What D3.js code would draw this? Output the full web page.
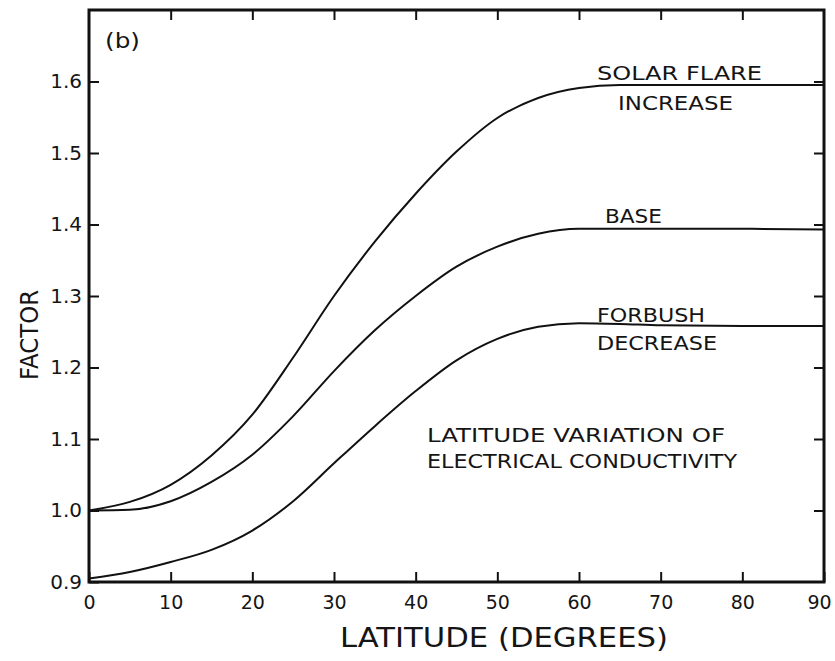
<!DOCTYPE html>
<html>
<head>
<meta charset="utf-8">
<script src="https://cdn.jsdelivr.net/npm/d3@7"></script>
<style>
  body { margin: 0; background: #fff; }
  svg text { font-family: "DejaVu Sans", sans-serif; fill: #151515; }
</style>
</head>
<body>
<div id="graph"></div>
<script>
// latitude (degrees) sampled along the curves
var latitudes = [0, 5, 10, 15, 20, 25, 30, 35, 40, 45, 50, 55, 60, 65, 70, 80, 90];
// factor values
var solarFlare = [1.000, 1.012, 1.036, 1.077, 1.134, 1.214, 1.300, 1.376, 1.443, 1.502, 1.549, 1.577, 1.591, 1.595, 1.595, 1.595, 1.595];
var base       = [1.000, 1.001, 1.013, 1.040, 1.078, 1.132, 1.195, 1.252, 1.300, 1.341, 1.369, 1.387, 1.394, 1.394, 1.394, 1.394, 1.393];
var forbush    = [0.905, 0.914, 0.928, 0.945, 0.972, 1.013, 1.066, 1.118, 1.167, 1.210, 1.240, 1.257, 1.262, 1.261, 1.259, 1.258, 1.258];

var xTicks = [0, 10, 20, 30, 40, 50, 60, 70, 80, 90];
var yTicks = [0.9, 1.0, 1.1, 1.2, 1.3, 1.4, 1.5, 1.6];

var w = 835, h = 661;
var margin = {top: 10, right: 11, bottom: 79, left: 89};

var svg = d3.select("div#graph").append("svg")
  .attr("width", w)
  .attr("height", h);

var x = d3.scaleLinear().domain([0, 90]).range([margin.left, w - margin.right]);
var y = d3.scaleLinear().domain([0.9, 1.7]).range([h - margin.bottom, margin.top]);

// frame
svg.append("rect")
  .attr("x", x(0)).attr("y", y(1.7))
  .attr("width", x(90) - x(0)).attr("height", y(0.9) - y(1.7))
  .attr("fill", "none")
  .style("stroke", "#111")
  .style("stroke-width", "3px");

// bottom axis (ticks point up into the plot)
var gx = svg.append("g")
  .attr("transform", "translate(0," + y(0.9) + ")")
  .call(d3.axisBottom(x).tickValues(xTicks).tickSizeInner(-10).tickSizeOuter(0).tickPadding(14)
    .tickFormat(d3.format("d")));
gx.select(".domain").remove();

// left axis (ticks point right)
var gy = svg.append("g")
  .attr("transform", "translate(" + x(0) + ",0)")
  .call(d3.axisLeft(y).tickValues(yTicks).tickSizeInner(-10).tickSizeOuter(0).tickPadding(7)
    .tickFormat(d3.format(".1f")));
gy.select(".domain").remove();

// mirrored ticks on top and right, no labels
var gt = svg.append("g")
  .attr("transform", "translate(0," + y(1.7) + ")")
  .call(d3.axisTop(x).tickValues(xTicks.slice(1, -1)).tickSizeInner(-10).tickSizeOuter(0).tickFormat(""));
gt.select(".domain").remove();
var gr = svg.append("g")
  .attr("transform", "translate(" + x(90) + ",0)")
  .call(d3.axisRight(y).tickValues(yTicks.slice(1)).tickSizeInner(-10).tickSizeOuter(0).tickFormat(""));
gr.select(".domain").remove();

svg.selectAll(".tick line").style("stroke", "#111").style("stroke-width", "2px");
gx.selectAll("text").style("font-size", "19px").attr("fill", "#151515");
gy.selectAll("text").style("font-size", "20px").attr("fill", "#151515");
// keep the "90" inside the window
gx.selectAll("text").filter(function(d) { return d == 90; }).attr("dx", -5);

// curves
var line = d3.line()
  .x(function(d) { return x(d[0]); })
  .y(function(d) { return y(d[1]); })
  .curve(d3.curveMonotoneX);

[solarFlare, base, forbush].forEach(function(series) {
  svg.append("path")
    .datum(latitudes.map(function(l, i) { return [l, series[i]]; }))
    .attr("fill", "none")
    .style("stroke", "#111")
    .style("stroke-width", "2px")
    .attr("d", line);
});

// labels
function label(txt, lx, ly, size, len) {
  svg.append("text")
    .attr("x", lx).attr("y", ly)
    .attr("textLength", len)
    .attr("lengthAdjust", "spacingAndGlyphs")
    .style("font-size", size + "px")
    .text(txt);
}
label("(b)", 105, 48, 22, 35);
label("SOLAR FLARE", 597, 80, 19, 165);
label("INCREASE", 618, 110, 19, 115);
label("BASE", 605, 223, 19, 57);
label("FORBUSH", 597, 322, 19, 108);
label("DECREASE", 597, 350, 19, 120);
label("LATITUDE VARIATION OF", 427, 442, 20, 298);
label("ELECTRICAL CONDUCTIVITY", 427, 468, 20, 310);
label("LATITUDE (DEGREES)", 340, 647, 26, 328);

svg.append("text")
  .attr("transform", "translate(38,380) rotate(-90)")
  .attr("textLength", 90)
  .attr("lengthAdjust", "spacingAndGlyphs")
  .style("font-size", "25px")
  .text("FACTOR");
</script>
</body>
</html>
